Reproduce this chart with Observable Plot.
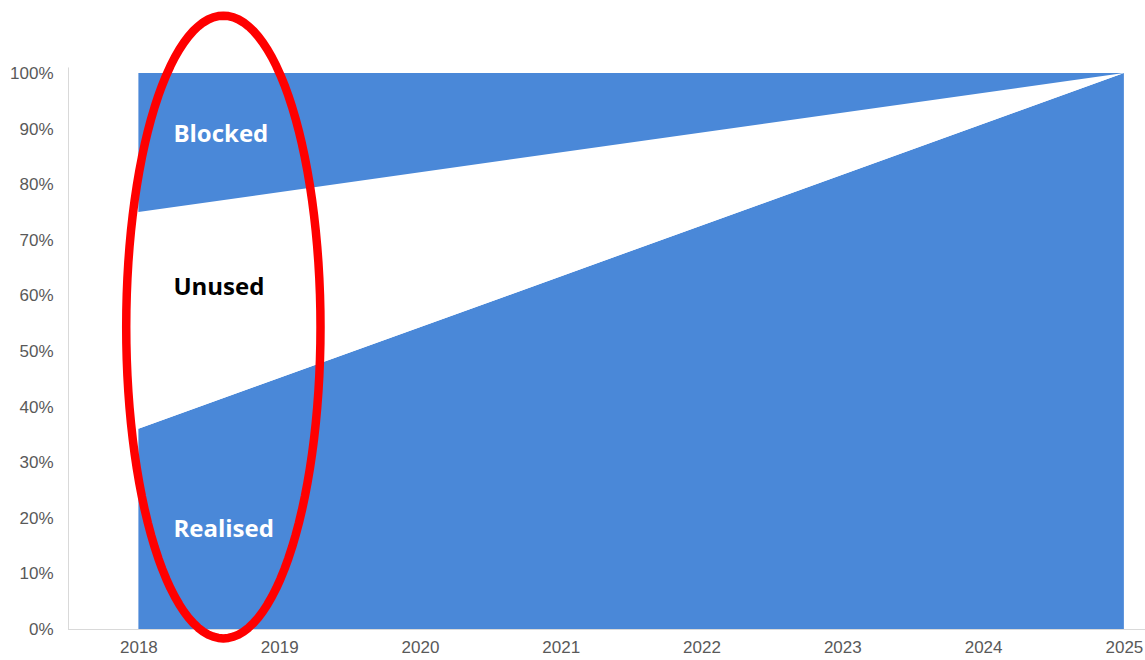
<!DOCTYPE html>
<html>
<head>
<meta charset="utf-8">
<script src="https://cdn.jsdelivr.net/npm/d3@7"></script>
<script src="https://cdn.jsdelivr.net/npm/@observablehq/plot@0.6"></script>
<style>
  html, body { margin: 0; padding: 0; background: #ffffff; }
  #chart { width: 1145px; height: 660px; }
</style>
</head>
<body>
<div id="chart"></div>
<script>
// ---- data ----
const years = [2018, 2025];
const realised = [36, 100];   // % share
const unused = [39, 0];       // % share
const blocked = [25, 0];      // % share
const seriesNames = ["Realised", "Unused", "Blocked"];
const xTicks = [2018, 2019, 2020, 2021, 2022, 2023, 2024, 2025];
const yTicks = [0, 10, 20, 30, 40, 50, 60, 70, 80, 90, 100];
const labelNames = ["Blocked", "Unused", "Realised"];
const labelX = [2018.245, 2018.245, 2018.245];
const labelY = [89.0, 61.5, 18.0];
// annotation ellipse (center and radii, in data units)
const ellipseCenter = [2018.6, 54.4];
const ellipseRadii = [0.69, 56.0];

// ---- build tables ----
const shares = [realised, unused, blocked];
const rows = [];
seriesNames.forEach((s, si) => {
  years.forEach((yr, i) => rows.push({series: s, year: yr, value: shares[si][i]}));
});
const labels = labelNames.map((t, i) => ({text: t, x: labelX[i], y: labelY[i]}));
const ell = d3.range(0, 361, 3).map(a => {
  const r = a * Math.PI / 180;
  return {x: ellipseCenter[0] + ellipseRadii[0] * Math.cos(r), y: ellipseCenter[1] + ellipseRadii[1] * Math.sin(r)};
});

const blue = "#4a88d8";
const axisColor = "#595959";

const chart = Plot.plot({
  width: 1145,
  height: 660,
  marginLeft: 68,
  marginRight: 0,
  marginTop: 73,
  marginBottom: 31,
  style: {fontFamily: "'Liberation Sans', Arial, sans-serif", fontSize: "17px", color: axisColor, background: "#ffffff", overflow: "visible"},
  x: {domain: [2017.5, 2025.15]},
  y: {domain: [0, 100]},
  color: {domain: seriesNames, range: [blue, "#ffffff", blue]},
  marks: [
    Plot.areaY(rows, {x: "year", y: "value", fill: "series", order: seriesNames, z: "series"}),
    Plot.ruleY([0], {x1: 2017.5, x2: 2025.15, stroke: "#d9d9d9", strokeWidth: 1}),
    Plot.ruleX([2017.5], {y1: 0, y2: 101, stroke: "#d9d9d9", strokeWidth: 1}),
    Plot.axisX({ticks: xTicks, tickFormat: d => String(d), tickSize: 0, tickPadding: 11, fontSize: 17, label: null, fill: axisColor}),
    Plot.axisY({ticks: yTicks, tickFormat: d => d + "%", tickSize: 0, tickPadding: 15, fontSize: 17, label: null, fill: axisColor}),
    Plot.text(labels, {x: "x", y: "y", text: "text", textAnchor: "start", fontSize: 24, fontWeight: "bold",
      fontFamily: "'Open Sans', sans-serif", fill: d => d.text === "Unused" ? "#000000" : "#ffffff"}),
    Plot.line(ell, {x: "x", y: "y", stroke: "#ff0000", strokeWidth: 8.5, curve: "linear-closed", clip: false})
  ]
});
document.getElementById("chart").appendChild(chart);
</script>
</body>
</html>
